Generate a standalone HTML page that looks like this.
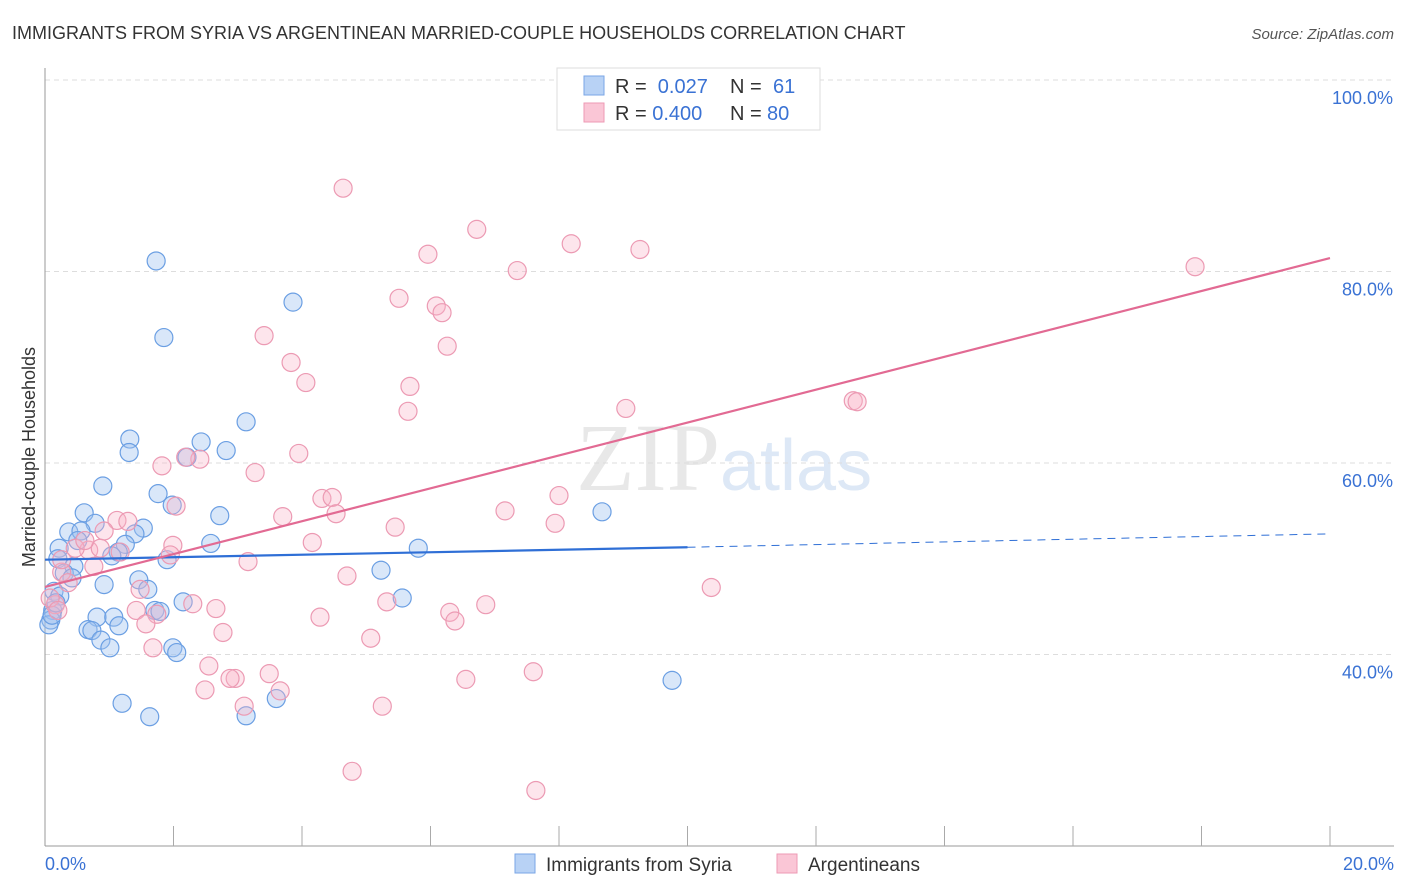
<!DOCTYPE html>
<html><head><meta charset="utf-8"><style>
body{margin:0;background:#fff;font-family:"Liberation Sans",sans-serif;}
svg{display:block}
</style></head><body>
<svg id="c" width="1406" height="892">
<text x="12" y="39" font-size="18" fill="#333">IMMIGRANTS FROM SYRIA VS ARGENTINEAN MARRIED-COUPLE HOUSEHOLDS CORRELATION CHART</text>
<text x="1394" y="39" font-size="15" fill="#555" font-style="italic" text-anchor="end">Source: ZipAtlas.com</text>
<text x="720" y="490" font-size="96" fill="#e8e8e8" text-anchor="end" font-family="Liberation Serif,serif">ZIP</text>
<text x="720" y="490" font-size="72" fill="#dde8f6">atlas</text>
<g id="grid"></g><g id="axes"></g><g id="marks"></g>
<text transform="translate(35,457) rotate(-90)" font-size="18" fill="#333" text-anchor="middle">Married-couple Households</text>
<g>
<rect x="557" y="68" width="263" height="62" fill="#fff" stroke="#ddd"/>
<rect x="584" y="76" width="20" height="19" fill="#b8d2f5" stroke="#7aa6e6"/>
<rect x="584" y="103" width="20" height="19" fill="#fac6d6" stroke="#ee9ab4"/>
<text x="615" y="93" font-size="20" fill="#333">R = <tspan fill="#3a72d4">&#160;0.027</tspan><tspan x="730">N = </tspan><tspan fill="#3a72d4" x="773">61</tspan></text>
<text x="615" y="120" font-size="20" fill="#333">R = <tspan fill="#3a72d4">0.400</tspan><tspan x="730">N = </tspan><tspan fill="#3a72d4" x="767">80</tspan></text>
</g>
<g>
<rect x="515" y="854" width="20" height="19" fill="#b8d2f5" stroke="#7aa6e6"/>
<text x="546" y="871" font-size="19" fill="#333">Immigrants from Syria</text>
<rect x="777" y="854" width="20" height="19" fill="#fac6d6" stroke="#ee9ab4"/>
<text x="808" y="871" font-size="19" fill="#333">Argentineans</text>
</g>
</svg>
<script>
const blueX=[1.73,1.85,3.86,3.13,1.32,1.31,2.43,2.82,2.21,0.90,1.76,1.98,0.61,0.78,2.72,0.37,0.56,1.53,1.40,1.25,2.58,0.22,0.51,1.14,1.04,0.20,1.90,0.45,0.30,0.42,1.46,0.92,1.60,0.14,0.23,0.12,1.71,1.79,2.15,0.81,1.07,1.15,0.67,0.73,0.87,1.01,1.99,2.05,0.09,0.06,5.23,5.56,5.81,8.67,9.76,1.20,1.63,3.13,3.60,0.11,0.17];
const blueY=[81.1,73.1,76.8,64.3,62.5,61.1,62.2,61.3,60.6,57.6,56.8,55.6,54.8,53.7,54.5,52.8,52.9,53.2,52.6,51.5,51.6,51.1,51.9,50.7,50.3,50.0,49.9,49.2,48.5,48.0,47.8,47.3,46.8,46.6,46.1,44.6,44.6,44.5,45.5,43.9,43.9,43.0,42.6,42.5,41.5,40.7,40.7,40.2,43.6,43.1,48.8,45.9,51.1,54.9,37.3,34.9,33.5,33.6,35.4,44.1,45.4];
const pinkX=[4.64,6.72,8.19,9.26,5.96,7.35,17.90,5.51,6.09,6.18,3.41,6.26,3.83,4.06,5.68,5.65,9.04,12.58,12.64,1.82,2.41,2.19,3.95,3.27,4.31,4.47,8.00,3.70,4.53,2.04,7.16,1.12,1.29,0.92,5.45,7.94,4.16,1.99,0.68,0.86,1.17,0.47,1.95,3.16,0.76,0.26,4.70,1.48,10.37,0.36,1.42,1.74,2.30,2.66,5.32,6.30,6.38,6.86,4.28,2.77,1.57,5.07,1.68,2.55,3.49,2.96,2.88,2.49,3.66,6.55,7.60,3.10,5.25,4.78,7.64,0.16,0.08,0.20,0.26,0.62];
const pinkY=[88.7,84.4,82.9,82.3,81.8,80.1,80.5,77.2,76.4,75.7,73.3,72.2,70.5,68.4,68.0,65.4,65.7,66.5,66.4,59.7,60.4,60.6,61.0,59.0,56.3,56.4,56.6,54.4,54.7,55.5,55.0,54.0,53.9,52.9,53.3,53.7,51.7,51.4,50.9,51.1,50.7,51.1,50.4,49.7,49.2,48.6,48.2,46.8,47.0,47.5,44.6,44.2,45.3,44.8,45.5,44.4,43.5,45.2,43.9,42.3,43.2,41.7,40.7,38.8,38.0,37.5,37.5,36.3,36.2,37.4,38.2,34.6,34.6,27.8,25.8,45.2,45.9,44.6,49.9,51.9];
const blueTrend=[49.9,51.2,52.6];
const pinkTrend=[47.05,81.4];
const yTicks=[100,80,60,40];
const yTickLabels=["100.0%","80.0%","60.0%","40.0%"];
const xTickLabels=["0.0%","20.0%"];

const NS="http://www.w3.org/2000/svg";
const X=v=>45+v*64.25;
const Y=v=>80+(100-v)*9.575;
function mk(tag,attrs,parent){const e=document.createElementNS(NS,tag);for(const k in attrs)e.setAttribute(k,attrs[k]);document.getElementById(parent).appendChild(e);return e;}
yTicks.forEach((t,i)=>{
  const g=mk('line',{x1:45,x2:1394,y1:Y(t),y2:Y(t),stroke:'#ddd','stroke-dasharray':'5,4'},'grid');
  
  
  const l=mk('text',{x:1393,y:Y(t)+24,'font-size':18,fill:'#3a72d4','text-anchor':'end'},'axes');
  l.textContent=yTickLabels[i];
  
  
});
let ya=mk('line',{x1:45,x2:45,y1:68,y2:846,stroke:'#999'},'axes');


let xa=mk('line',{x1:45,x2:1394,y1:846,y2:846,stroke:'#999'},'axes');


for(let i=1;i<=10;i++){
  const t=mk('line',{x1:X(i*2),x2:X(i*2),y1:826,y2:846,stroke:'#aaa'},'axes');
  
  
}
[[0,'start',45],[1,'end',1394]].forEach(([i,a,x])=>{
  const l=mk('text',{x:x,y:870,'font-size':18,fill:'#3a72d4','text-anchor':a},'axes');
  l.textContent=xTickLabels[i];
  
  
});
blueX.forEach((v,i)=>{
  const c=mk('circle',{cx:X(v),cy:Y(blueY[i]),r:9,fill:'rgba(160,196,240,0.4)',stroke:'#6b9fe3','stroke-width':1.2},'marks');
  
  
});
pinkX.forEach((v,i)=>{
  const c=mk('circle',{cx:X(v),cy:Y(pinkY[i]),r:9,fill:'rgba(248,180,200,0.35)',stroke:'#ec9ab3','stroke-width':1.2},'marks');
  
  
});
let b1=mk('line',{x1:X(0),y1:Y(blueTrend[0]),x2:X(10),y2:Y(blueTrend[1]),stroke:'#2f6fd6','stroke-width':2.2},'marks');


let b2=mk('line',{x1:X(10),y1:Y(blueTrend[1]),x2:X(20),y2:Y(blueTrend[2]),stroke:'#2f6fd6','stroke-width':1,'stroke-dasharray':'8,6'},'marks');


let p1=mk('line',{x1:X(0),y1:Y(pinkTrend[0]),x2:X(20),y2:Y(pinkTrend[1]),stroke:'#e26a93','stroke-width':2.2},'marks');


</script>
</body></html>
